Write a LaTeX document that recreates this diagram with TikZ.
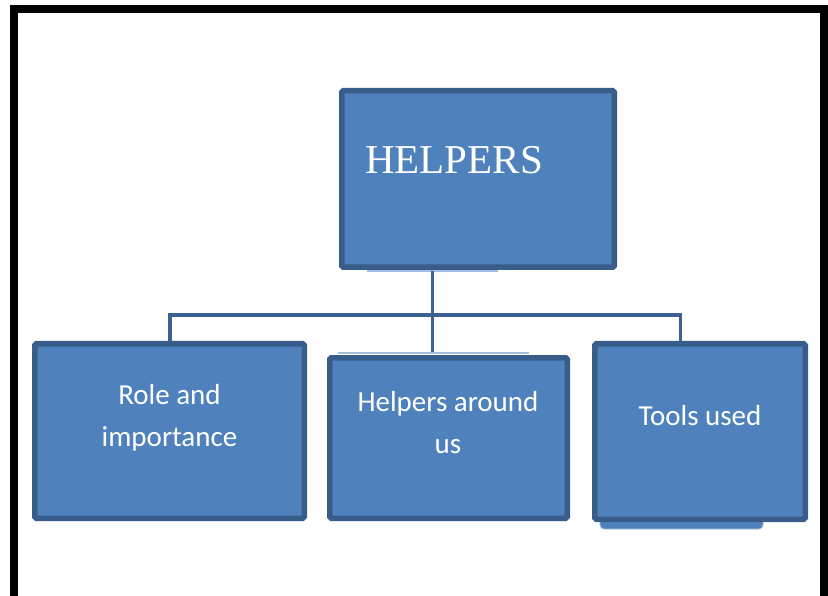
\documentclass[tikz,border=0pt]{standalone}
\usepackage{fontspec}
\setmainfont{Liberation Serif}
\newfontfamily\boxfont{Carlito}
\definecolor{boxfill}{HTML}{4F81BD}
\definecolor{boxline}{HTML}{385D8A}
\definecolor{connline}{HTML}{3B6293}
\definecolor{lightbar}{HTML}{A3BCDD}
\begin{document}
\begin{tikzpicture}[x=1pt,y=-1pt,
  box/.style={draw=boxline,fill=boxfill,line width=5.5pt,rounded corners=1.5pt,inner sep=0pt},
  conn/.style={draw=connline,line width=3.2pt},
  lbl/.style={text=white,font=\boxfont\fontsize{29}{42}\selectfont,anchor=base,inner sep=0pt}]
\useasboundingbox (0,0) rectangle (828,596);
% frame
\draw[line width=8pt] (13.5,9) rectangle (824,600);
% small artefacts
\fill[lightbar] (367,270) rectangle (498,272.5);
\fill[lightbar] (338,351.5) rectangle (529,354);
\fill[boxfill,rounded corners=4pt] (600,515) rectangle (763,529);
\draw[lightbar,line width=0.8pt,rounded corners=4pt] (600,522) -- (600,529) -- (763,529) -- (763,522);
% boxes
\node[box,minimum width=272.5pt,minimum height=176.5pt] (h) at (478,179) {};
\node[box,minimum width=269.5pt,minimum height=174.5pt] (r) at (169.5,431) {};
\node[box,minimum width=237.5pt,minimum height=160.5pt] (m) at (448.5,438) {};
\node[box,minimum width=210.5pt,minimum height=175.5pt] (t) at (700,431.5) {};
% texts
\node[text=white,font=\fontsize{41}{48}\selectfont,anchor=base west,inner sep=0pt] (htxt) at (365,174) {HELPERS};
\node[lbl] (r1) at (169.5,404) {Role and};
\node[lbl] (r2) at (169.5,446) {importance};
\node[lbl] (m1) at (448,411) {Helpers around};
\node[lbl] (m2) at (448,453) {us};
\node[lbl] (t1) at (700,425) {Tools used};
% connectors
\coordinate (hs) at (432.5,271);
\coordinate (bm) at (432.5,315);
\coordinate (rt) at (170,341);
\coordinate (tt) at (680.5,341);
\coordinate (mend) at (432.5,352);
\draw[conn] (hs) -- (bm);
\draw[conn] (rt) |- (bm) -| (tt);
\draw[conn] (bm) -- (mend);
\end{tikzpicture}
\end{document}
